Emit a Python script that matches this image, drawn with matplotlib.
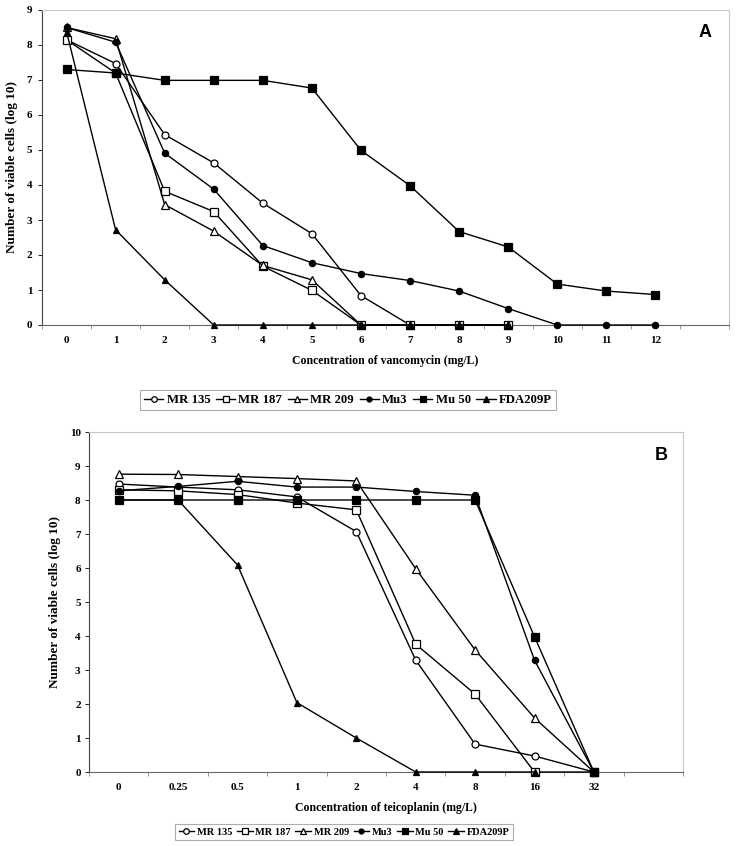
import matplotlib
matplotlib.use("Agg")
import matplotlib.pyplot as plt
import numpy as np

# panel A: vancomycin (mg/L)
vanco_conc = ['0', '1', '2', '3', '4', '5', '6', '7', '8', '9', '10', '11', '12']
a_mr135 = [8.15, 7.47, 5.44, 4.63, 3.48, 2.61, 0.84, 0, 0, 0]
a_mr187 = [8.15, 7.2, 3.82, 3.24, 1.68, 0.99, 0, 0, 0, 0]
a_mr209 = [8.5, 8.18, 3.44, 2.68, 1.7, 1.29, 0, 0, 0, 0]
a_mu3 = [8.5, 8.08, 4.91, 3.88, 2.27, 1.78, 1.47, 1.27, 0.97, 0.47, 0, 0, 0]
a_mu50 = [7.3, 7.2, 6.99, 6.99, 6.99, 6.77, 4.99, 3.98, 2.67, 2.23, 1.17, 0.97, 0.87]
a_fda = [8.38, 2.72, 1.29, 0, 0, 0, 0, 0, 0, 0]

# panel B: teicoplanin (mg/L)
teico_conc = ['0', '0.25', '0.5', '1', '2', '4', '8', '16', '32']
b_mr135 = [8.47, 8.38, 8.3, 8.09, 7.07, 3.29, 0.82, 0.47, 0]
b_mr187 = [8.3, 8.27, 8.16, 7.91, 7.71, 3.76, 2.29, 0, 0]
b_mr209 = [8.76, 8.75, 8.69, 8.63, 8.56, 5.98, 3.59, 1.59, 0]
b_mu3 = [8.27, 8.4, 8.55, 8.38, 8.38, 8.25, 8.14, 3.29, 0]
b_mu50 = [8.0, 8.0, 8.0, 8.0, 8.0, 8.0, 8.0, 3.98, 0]
b_fda = [8.0, 8.0, 6.09, 2.04, 1.0, 0, 0, 0]

strains = ['MR 135', 'MR 187', 'MR 209', 'Mu3', 'Mu 50', 'FDA209P']
markers = ['o', 's', '^', 'o', 's', '^']
fills = ['white', 'white', 'white', 'black', 'black', 'black']
msizes = [5, 5.5, 5.5, 4.5, 5.5, 5]

serif = 'Liberation Serif'

fig = plt.figure(figsize=(7.38, 8.46), dpi=100)
axA = fig.add_axes([42 / 738, 1 - 325 / 846, (729 - 42) / 738, (325 - 10) / 846])
axB = fig.add_axes([89 / 738, 1 - 772 / 846, (683 - 89) / 738, (772 - 432) / 846])


def draw(ax, cats, series, ymax, xlabel, letter, tick_fs, ypad):
    for vals, lab, m, fc, ms in zip(series, strains, markers, fills, msizes):
        x = np.arange(len(vals))
        ax.plot(x, vals, color='black', lw=1.0, marker=m, mfc=fc, mec='black',
                mew=0.9, ms=ms, label=lab, clip_on=False, zorder=3)
    n = len(cats) + 1
    ax.set_xlim(-0.5, n - 0.5)
    ax.set_ylim(0, ymax)
    ax.set_xticks(np.arange(len(cats)))
    ax.set_xticklabels(cats)
    ax.set_xticks(np.arange(n + 1) - 0.5, minor=True)
    ax.tick_params(axis='x', which='major', length=0, pad=8)
    ax.tick_params(axis='x', which='minor', length=3, width=0.6, color='#888888')
    ax.set_yticks(np.arange(0, ymax + 1, 1))
    ax.tick_params(axis='y', length=3, width=0.6, pad=ypad)
    for lbl in ax.get_xticklabels() + ax.get_yticklabels():
        lbl.set_fontfamily(serif)
        lbl.set_fontweight('bold')
        lbl.set_fontsize(tick_fs)
    ax.set_xlabel(xlabel, fontfamily=serif, fontweight='bold', fontsize=tick_fs + 0.5, labelpad=7)
    ax.set_ylabel('Number of viable cells (log 10)', fontfamily=serif,
                  fontweight='bold', fontsize=tick_fs + 1.5, labelpad=6)
    ax.spines['left'].set_color('#444444')
    ax.spines['bottom'].set_color('#666666')
    for s in ['top', 'right']:
        ax.spines[s].set_color('#c8c8c8')
    for s in ax.spines.values():
        s.set_linewidth(0.8)
    ax.text(0.975, 0.955, letter, transform=ax.transAxes, ha='right', va='top',
            fontfamily='Liberation Sans', fontweight='bold', fontsize=13)


draw(axA, vanco_conc, [a_mr135, a_mr187, a_mr209, a_mu3, a_mu50, a_fda], 9,
     'Concentration of vancomycin (mg/L)', 'A', 8, 4)
draw(axB, teico_conc, [b_mr135, b_mr187, b_mr209, b_mu3, b_mu50, b_fda], 10,
     'Concentration of teicoplanin (mg/L)', 'B', 8, 3)


def legend(ax, xcenter, ycenter, fs):
    h, l = ax.get_legend_handles_labels()
    leg = fig.legend(h, l, loc='center', bbox_to_anchor=(xcenter / 738, 1 - ycenter / 846),
                     ncol=6, frameon=True, fancybox=False, edgecolor='#999999',
                     handlelength=1.5, handletextpad=0.25, columnspacing=0.45,
                     borderpad=0.35, prop={'family': serif, 'weight': 'bold', 'size': fs},
                     markerscale=0.8)
    leg.get_frame().set_linewidth(0.8)


legend(axA, 348, 400, 9.2)
legend(axB, 344, 832, 7.5)

fig.savefig('out.png', dpi=100, facecolor='white')
